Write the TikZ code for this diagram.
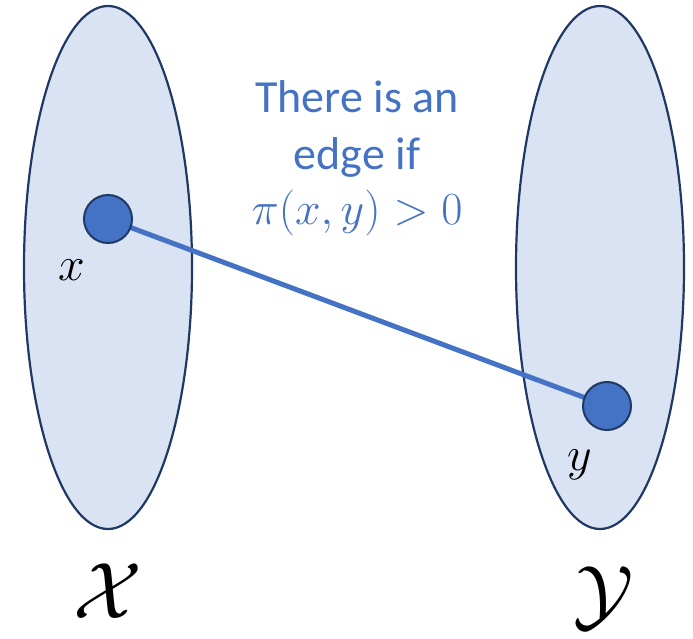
\RequirePackage{fix-cm}
\documentclass[tikz,border=0pt]{standalone}
\usepackage{fontspec}
\setmainfont{Carlito}
\usetikzlibrary{shapes.geometric}
\definecolor{acc}{HTML}{4472C4}
\definecolor{setfill}{HTML}{DAE3F3}
\definecolor{setline}{HTML}{1F3864}
\begin{document}
\begin{tikzpicture}[x=1pt,y=-1pt,
  setshape/.style={ellipse, draw=setline, fill=setfill, line width=2.2pt,
    minimum width=168pt, minimum height=523pt, inner sep=0pt},
  dotnode/.style={circle, draw=setline, fill=acc, line width=2pt,
    minimum size=48pt, inner sep=0pt},
  edgeline/.style={draw=acc, line width=5pt},
  lbl/.style={inner sep=0pt, anchor=base, font=\fontsize{48}{56}\selectfont},
  setlbl/.style={inner sep=0pt, font=\fontsize{80}{90}\selectfont},
  note/.style={inner sep=0pt, anchor=base, text=acc, font=\fontsize{46}{56}\selectfont}]
\useasboundingbox (0,0) rectangle (693,639);
\node[setshape] (SX) at (108,267.5) {};
\node[setshape] (SY) at (600,267.5) {};
\coordinate (px) at (108,219);
\coordinate (py) at (607,406);
\path[edgeline] (px) -- (py);
\node[dotnode] (dx) at (px) {};
\node[dotnode] (dy) at (py) {};
\node[lbl] (lx) at (72,280) {$x$};
\node[lbl] (ly) at (580,470) {$y$};
\node[setlbl] (LX) at (108,591) {$\mathcal{X}$};
\node[setlbl] (LY) at (604,598) {$\mathcal{Y}$};
\node[note] (t1) at (357,113) {There is an};
\node[note] (t2) at (357,170) {edge if};
\node[note] (t3) at (357,225) {$\pi(x,y) > 0$};
\end{tikzpicture}
\end{document}
